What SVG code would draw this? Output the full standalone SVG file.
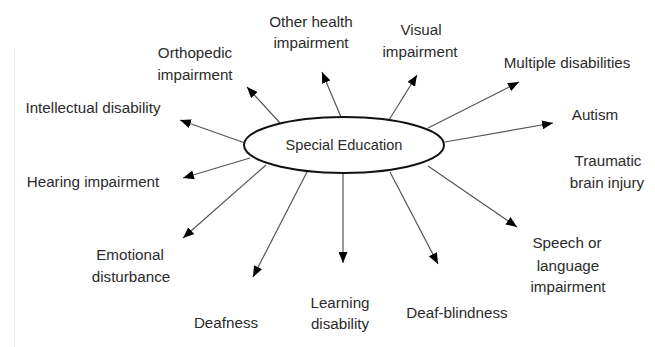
<svg xmlns="http://www.w3.org/2000/svg" width="655" height="347" viewBox="0 0 655 347">
  <style>
    .bg { fill: #ffffff; }
    .edge { stroke: #555555; stroke-width: 1.2; fill: none; marker-end: url(#head); }
    .hub { fill: #ffffff; stroke: #111111; stroke-width: 2; }
    text { font-family: "Liberation Sans", Arial, sans-serif; font-size: 15.2px; fill: #2b2b2b; text-anchor: middle; }
    .hubtext { font-size: 14.6px; }
  </style>
  <defs>
    <marker id="head" markerUnits="userSpaceOnUse" markerWidth="12" markerHeight="9" refX="11" refY="4.5" orient="auto">
      <path d="M0,0 L11,4.5 L0,9 Z" fill="#000000"/>
    </marker>
  </defs>

  <rect class="bg" x="0" y="0" width="655" height="347"/>
  <line x1="14.5" y1="48" x2="14.5" y2="347" stroke="#f0f0f0" stroke-width="1"/>

  <!-- spokes from the hub to each category -->
  <g id="connectors">
    <line class="edge" x1="245" y1="143" x2="180" y2="120"/>
    <line class="edge" x1="280" y1="123" x2="247" y2="87"/>
    <line class="edge" x1="341" y1="117" x2="322" y2="72"/>
    <line class="edge" x1="389" y1="120" x2="417" y2="75"/>
    <line class="edge" x1="428" y1="128" x2="519" y2="82"/>
    <line class="edge" x1="445" y1="142" x2="553" y2="123"/>
    <line class="edge" x1="428" y1="166" x2="517" y2="227"/>
    <line class="edge" x1="390" y1="172" x2="438" y2="264"/>
    <line class="edge" x1="343" y1="173" x2="343" y2="263"/>
    <line class="edge" x1="307" y1="172" x2="253" y2="277"/>
    <line class="edge" x1="266" y1="165" x2="183" y2="238"/>
    <line class="edge" x1="250" y1="158" x2="183" y2="178"/>
  </g>

  <g id="hub">
    <ellipse class="hub" cx="344" cy="145" rx="100" ry="28"/>
    <text class="hubtext" x="344" y="150">Special Education</text>
  </g>

  <g id="intellectual"><text x="93" y="113">Intellectual disability</text></g>
  <g id="orthopedic">
    <text x="195" y="58">Orthopedic</text>
    <text x="195" y="80">impairment</text>
  </g>
  <g id="other-health">
    <text x="311" y="27">Other health</text>
    <text x="311" y="48">impairment</text>
  </g>
  <g id="visual">
    <text x="421" y="35">Visual</text>
    <text x="420" y="57">impairment</text>
  </g>
  <g id="multiple"><text x="567" y="68">Multiple disabilities</text></g>
  <g id="autism"><text x="595" y="120">Autism</text></g>
  <g id="traumatic">
    <text x="608" y="166">Traumatic</text>
    <text x="607" y="188">brain injury</text>
  </g>
  <g id="speech">
    <text x="567" y="248">Speech or</text>
    <text x="568" y="271">language</text>
    <text x="568" y="292">impairment</text>
  </g>
  <g id="deaf-blindness"><text x="457" y="318">Deaf-blindness</text></g>
  <g id="learning">
    <text x="340" y="308">Learning</text>
    <text x="340" y="329">disability</text>
  </g>
  <g id="deafness"><text x="226" y="328">Deafness</text></g>
  <g id="emotional">
    <text x="130" y="260">Emotional</text>
    <text x="131" y="282">disturbance</text>
  </g>
  <g id="hearing"><text x="93" y="187">Hearing impairment</text></g>
</svg>
